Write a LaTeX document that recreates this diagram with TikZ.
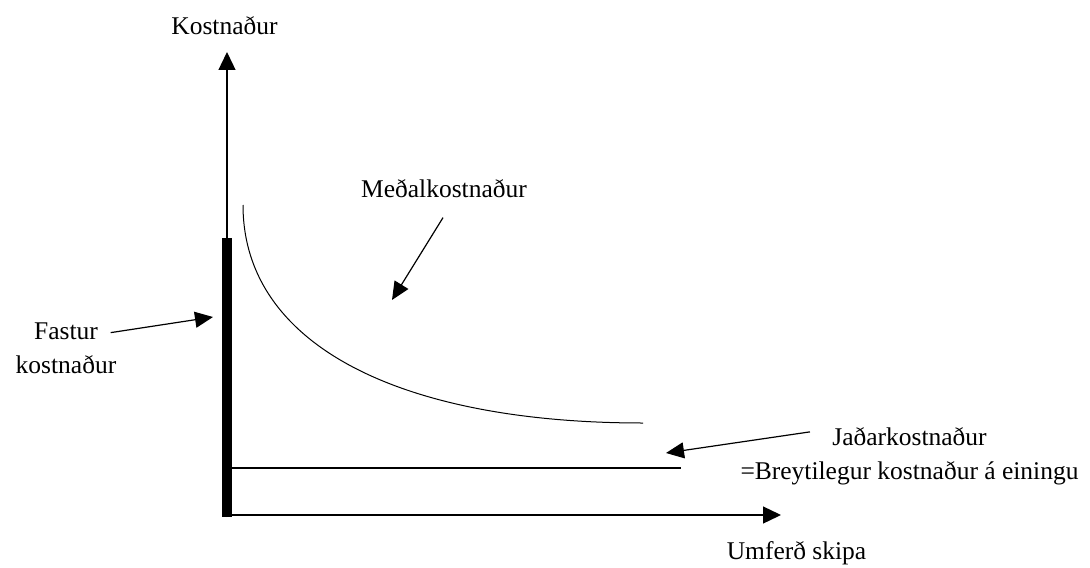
\documentclass[tikz,border=0pt]{standalone}
\usepackage{fontspec}
\setmainfont{Liberation Serif}
\usetikzlibrary{arrows.meta}

\begin{document}
\begin{tikzpicture}[
		x=0.5pt, y=-0.5pt,
		font=\fontsize{12.75}{17}\selectfont,
		% Text styles
		tag/.style={inner sep=0pt, anchor=base},
		twoLine/.style={inner sep=0pt, align=center},
		% Line and arrow styles
		axisArrow/.style={line width=0.65pt, -{Triangle[length=9pt, width=8.5pt]}},
		pointerArrow/.style={line width=0.6pt, -{Triangle[length=9pt, width=8pt]}},
		costCurve/.style={line width=0.5pt},
		costLine/.style={line width=0.85pt},
		fixedBar/.style={fill=black, inner sep=0pt, minimum width=5pt, minimum height=139.5pt, anchor=north}
		]
		\useasboundingbox (0,0) rectangle (1090,567);
		
		% =========================================================
		% AXES
		% =========================================================
		\coordinate (Origin) at (227,517);
		\coordinate (YTip) at (227,52);
		\coordinate (XStart) at (232,515);
		\coordinate (XTip) at (781,515);
		
		\draw[axisArrow] (Origin) -- (YTip);
		\draw[axisArrow] (XStart) -- (XTip);
		
		\node[tag] (YLabel) at (224.5,35) {Kostnaður};
		\node[tag] (XLabel) at (796.5,559) {Umferð skipa};
		
		% =========================================================
		% COST CURVES
		% =========================================================
		% Fixed cost bar on the y-axis
		\node[fixedBar] (FixedBar) at (227,238) {};
		
		% Average cost
		\draw[costCurve] (243,205) .. controls (243,345) and (400,423) .. (643,423);
		
		% Marginal cost
		\draw[costLine] (232,468) -- (681,468);
		
		% =========================================================
		% LABELS AND POINTERS
		% =========================================================
		\node[tag] (MedalLabel) at (444,197) {Meðalkostnaður};
		\node[twoLine] (FasturLabel) at (66,348.5) {Fastur\\kostnaður};
		\node[twoLine] (JadarLabel) at (909.5,456.6) {Jaðarkostnaður\\=Breytilegur kostnaður á einingu};
		
		\coordinate (MedalTip) at (392,300);
		\coordinate (FasturTip) at (213,317);
		\coordinate (JadarTip) at (666,453);
		
		\draw[pointerArrow] ([xshift=-0.5pt, yshift=-10pt]MedalLabel.south) -- (MedalTip);
		\draw[pointerArrow] ([xshift=-3pt, yshift=-5pt]FasturLabel.north east) -- (FasturTip);
		\draw[pointerArrow] ([xshift=-49.75pt, yshift=-2.2pt]JadarLabel.north) -- (JadarTip);
		
	\end{tikzpicture}
\end{document}
